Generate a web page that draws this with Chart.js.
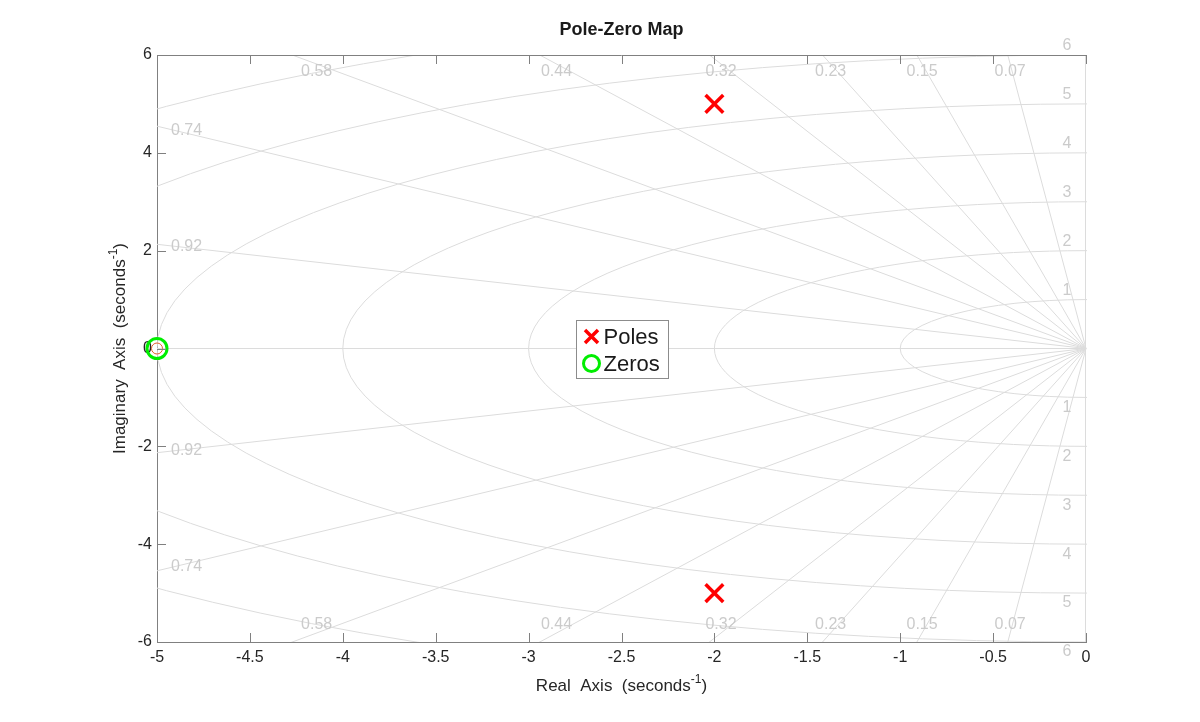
<!DOCTYPE html>
<html>
<head>
<meta charset="utf-8">
<title>Pole-Zero Map</title>
<script src="https://cdn.jsdelivr.net/npm/chart.js@4.4.1/dist/chart.umd.min.js"></script>
<style>
  html, body { margin: 0; padding: 0; background: #fff; }
</style>
</head>
<body>
<canvas id="pzmap" width="1200" height="722"></canvas>
<script>
// pole / zero locations (real, imaginary)
const poleRe = [-2, -2];
const poleIm = [5, -5];
const zeroRe = [-5];
const zeroIm = [0];

// axis ticks
const xTicks = [-5, -4.5, -4, -3.5, -3, -2.5, -2, -1.5, -1, -0.5, 0];
const yTicks = [-6, -4, -2, 0, 2, 4, 6];

// s-plane grid: damping ratio rays and natural frequency circles
const dampingValues = [0.92, 0.74, 0.58, 0.44, 0.32, 0.23, 0.15, 0.07];
const naturalFreqs = [1, 2, 3, 4, 5, 6, 7];
const freqLabels = [1, 2, 3, 4, 5, 6];

const FONT = '"Liberation Sans", Arial, Helvetica, sans-serif';
const GRID_COLOR = '#dcdcdc';
const GRID_TEXT = '#cbcbcb';
const AXIS_COLOR = '#808080';
const TEXT_COLOR = '#262626';

const toPoints = (re, im) => re.map((x, i) => ({ x, y: im[i] }));

// sgrid-like overlay drawn in data space through the scales
const sGrid = {
  id: 'sGrid',
  beforeDatasetsDraw(chart) {
    const { ctx, chartArea: a, scales: { x, y } } = chart;
    const ox = x.getPixelForValue(0), oy = y.getPixelForValue(0);
    const kx = x.getPixelForValue(1) - ox, ky = oy - y.getPixelForValue(1);
    ctx.save();
    ctx.beginPath();
    ctx.rect(a.left, a.top, a.right - a.left + 1, a.bottom - a.top);
    ctx.clip();
    ctx.strokeStyle = GRID_COLOR;
    ctx.lineWidth = 1;
    naturalFreqs.forEach(w => {
      ctx.beginPath();
      ctx.ellipse(ox, oy, w * kx, w * ky, 0, 0, 2 * Math.PI);
      ctx.stroke();
    });
    const R = 50;
    ctx.beginPath();
    dampingValues.forEach(z => {
      const s = Math.sqrt(1 - z * z);
      [1, -1].forEach(sg => {
        ctx.moveTo(ox, oy);
        ctx.lineTo(x.getPixelForValue(-R * z), y.getPixelForValue(sg * R * s));
      });
    });
    ctx.moveTo(ox, oy); ctx.lineTo(x.getPixelForValue(-R), oy);
    ctx.moveTo(ox - 0.5, y.getPixelForValue(R)); ctx.lineTo(ox - 0.5, y.getPixelForValue(-R));
    ctx.stroke();
    ctx.restore();

    // grid labels
    ctx.save();
    ctx.fillStyle = GRID_TEXT;
    ctx.font = '16px ' + FONT;
    const xmin = x.min, ymax = y.max;
    dampingValues.forEach(z => {
      const t = Math.sqrt(1 - z * z) / z;
      const txt = z.toFixed(2);
      if (-xmin * t < ymax - 0.5) {
        const px = a.left + 14;
        const xd = x.getValueForPixel(px);
        ctx.textAlign = 'left';
        ctx.textBaseline = 'middle';
        ctx.fillText(txt, px, y.getPixelForValue(-xd * t) + 1);
        ctx.fillText(txt, px, y.getPixelForValue(xd * t) - 1);
      } else {
        ctx.textAlign = 'center';
        const pyTop = a.top + 9;
        const yd = y.getValueForPixel(pyTop);
        ctx.textBaseline = 'top';
        ctx.fillText(txt, x.getPixelForValue(-yd / t), pyTop);
        const pyBot = a.bottom - 9;
        ctx.textBaseline = 'bottom';
        ctx.fillText(txt, x.getPixelForValue(-yd / t), pyBot);
      }
    });
    ctx.textAlign = 'center';
    ctx.textBaseline = 'middle';
    freqLabels.forEach(w => {
      ctx.fillText(String(w), a.right - 19, y.getPixelForValue(w) - 9);
      ctx.fillText(String(w), a.right - 19, y.getPixelForValue(-w) + 10);
    });
    ctx.restore();
  }
};

function drawSupText(ctx, base, sup, tail, cx, cy, size) {
  const big = size + 'px ' + FONT, small = Math.round(size * 0.7) + 'px ' + FONT;
  ctx.font = big; const w1 = ctx.measureText(base).width;
  ctx.font = small; const w2 = ctx.measureText(sup).width;
  ctx.font = big; const w3 = ctx.measureText(tail).width;
  let x0 = cx - (w1 + w2 + w3) / 2;
  ctx.textAlign = 'left';
  ctx.textBaseline = 'middle';
  ctx.font = big; ctx.fillText(base, x0, cy);
  ctx.font = small; ctx.fillText(sup, x0 + w1, cy - size * 0.38);
  ctx.font = big; ctx.fillText(tail, x0 + w1 + w2, cy);
}

const frame = {
  id: 'frame',
  afterDatasetsDraw(chart) {
    const { ctx, chartArea: a, scales: { x, y } } = chart;
    ctx.save();
    ctx.strokeStyle = AXIS_COLOR;
    ctx.lineWidth = 1;
    ctx.beginPath();
    ctx.moveTo(a.left, a.top + 0.5); ctx.lineTo(a.right, a.top + 0.5);
    const tl = 9;
    x.ticks.forEach(t => {
      const px = Math.round(x.getPixelForValue(t.value)) + 0.5;
      ctx.moveTo(px, a.bottom); ctx.lineTo(px, a.bottom - tl);
      ctx.moveTo(px, a.top); ctx.lineTo(px, a.top + tl);
    });
    y.ticks.forEach(t => {
      const py = Math.round(y.getPixelForValue(t.value)) + 0.5;
      ctx.moveTo(a.left, py); ctx.lineTo(a.left + tl, py);
    });
    ctx.stroke();
    ctx.restore();
  },
  afterDraw(chart) {
    const { ctx, chartArea: a } = chart;
    const cx = (a.left + a.right) / 2, cy = (a.top + a.bottom) / 2;
    ctx.save();
    ctx.fillStyle = '#1a1a1a';
    ctx.font = 'bold 18px ' + FONT;
    ctx.textAlign = 'center';
    ctx.textBaseline = 'middle';
    ctx.fillText('Pole-Zero Map', cx, 30);

    ctx.fillStyle = TEXT_COLOR;
    drawSupText(ctx, 'Real  Axis  (seconds', '-1', ')', cx, 686, 17);
    ctx.translate(120, cy);
    ctx.rotate(-Math.PI / 2);
    drawSupText(ctx, 'Imaginary  Axis  (seconds', '-1', ')', 0, 0, 17);
    ctx.restore();

    // legend box in the middle of the axes
    const items = chart.data.datasets.filter(d => d.inLegend);
    const bw = 92, bh = 58;
    const bx = Math.round(cx - bw / 2) + 0.5, by = Math.round(cy - bh / 2) + 0.5;
    ctx.save();
    ctx.fillStyle = '#ffffff';
    ctx.strokeStyle = '#8c8c8c';
    ctx.lineWidth = 1;
    ctx.fillRect(bx, by, bw, bh);
    ctx.strokeRect(bx, by, bw, bh);
    items.forEach((d, i) => {
      const iy = by + 16 + i * 27;
      const ix = bx + 15;
      ctx.strokeStyle = d.borderColor;
      ctx.lineWidth = d.pointStyle === 'crossRot' ? 3.5 : 3;
      ctx.beginPath();
      if (d.pointStyle === 'crossRot') {
        ctx.moveTo(ix - 6.5, iy - 6.5); ctx.lineTo(ix + 6.5, iy + 6.5);
        ctx.moveTo(ix - 6.5, iy + 6.5); ctx.lineTo(ix + 6.5, iy - 6.5);
      } else {
        ctx.arc(ix, iy, 8, 0, 2 * Math.PI);
      }
      ctx.stroke();
      ctx.fillStyle = '#1a1a1a';
      ctx.font = '22px ' + FONT;
      ctx.textAlign = 'left';
      ctx.textBaseline = 'middle';
      ctx.fillText(d.label, bx + 27, iy + 1);
    });
    ctx.restore();
  }
};

new Chart(document.getElementById('pzmap'), {
  type: 'scatter',
  data: {
    datasets: [
      {
        label: 'Poles',
        inLegend: true,
        data: toPoints(poleRe, poleIm),
        pointStyle: 'crossRot',
        pointRadius: 12.5,
        pointHoverRadius: 12.5,
        borderWidth: 3.5,
        borderColor: '#ff0000',
        backgroundColor: '#ff0000',
        clip: false
      },
      {
        label: 'Zeros',
        inLegend: true,
        data: toPoints(zeroRe, zeroIm),
        pointStyle: 'circle',
        pointRadius: 10,
        pointHoverRadius: 10,
        borderWidth: 3,
        borderColor: '#00ee00',
        backgroundColor: 'rgba(0,0,0,0)',
        clip: false
      },
      {
        label: 'zero marker',
        inLegend: false,
        data: toPoints(zeroRe, zeroIm),
        pointStyle: 'circle',
        pointRadius: 5.5,
        borderWidth: 1,
        borderColor: '#e0602a',
        backgroundColor: 'rgba(0,0,0,0)',
        clip: false
      }
    ]
  },
  options: {
    responsive: false,
    animation: false,
    layout: { padding: { left: 0, right: 114, top: 55, bottom: 0 } },
    plugins: {
      legend: { display: false },
      title: { display: false },
      tooltip: { enabled: false }
    },
    scales: {
      x: {
        type: 'linear',
        min: -5,
        max: 0,
        afterBuildTicks: s => { s.ticks = xTicks.map(v => ({ value: v })); },
        afterFit: s => { s.height = 80; },
        grid: { display: false, drawTicks: false },
        border: { display: true, color: AXIS_COLOR, width: 1 },
        ticks: {
          callback: v => String(v),
          color: TEXT_COLOR,
          font: { family: FONT, size: 16 },
          padding: 6,
          maxRotation: 0,
          autoSkip: false
        }
      },
      y: {
        type: 'linear',
        min: -6,
        max: 6,
        afterBuildTicks: s => { s.ticks = yTicks.map(v => ({ value: v })); },
        afterFit: s => { s.width = 157; },
        grid: { display: false, drawTicks: false },
        border: { display: true, color: AXIS_COLOR, width: 1 },
        ticks: {
          callback: v => String(v),
          color: TEXT_COLOR,
          font: { family: FONT, size: 16 },
          padding: 5,
          autoSkip: false
        }
      }
    }
  },
  plugins: [sGrid, frame]
});
</script>
</body>
</html>
